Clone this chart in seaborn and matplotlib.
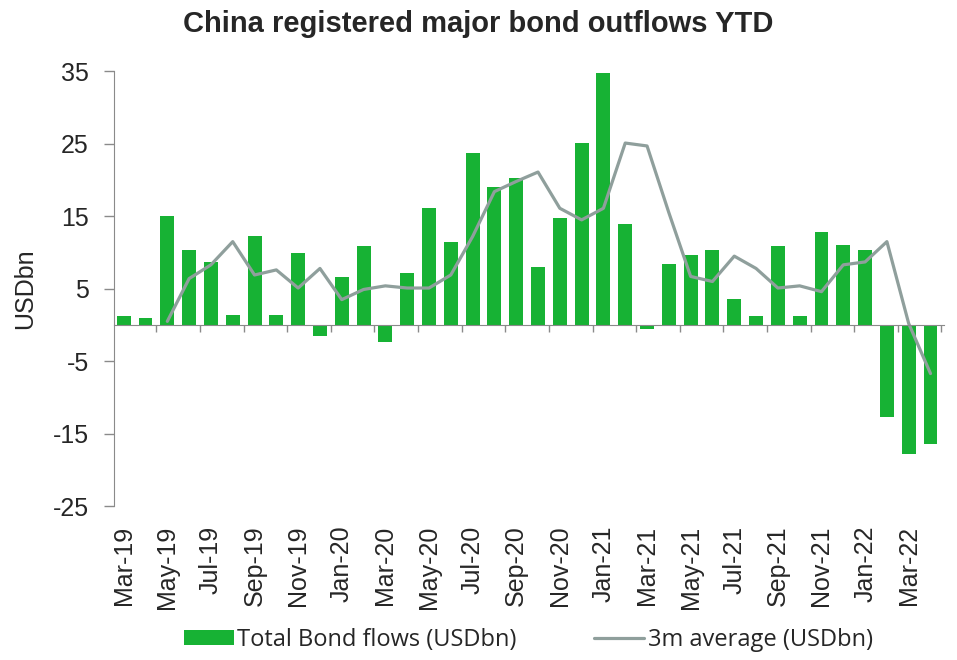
import numpy as np
import pandas as pd
import seaborn as sns
import matplotlib.pyplot as plt
from matplotlib.patches import Patch
from matplotlib.lines import Line2D

# monthly data, Mar-19 .. Apr-22
months = [
    "Mar-19", "Apr-19", "May-19", "Jun-19", "Jul-19", "Aug-19", "Sep-19", "Oct-19",
    "Nov-19", "Dec-19", "Jan-20", "Feb-20", "Mar-20", "Apr-20", "May-20", "Jun-20",
    "Jul-20", "Aug-20", "Sep-20", "Oct-20", "Nov-20", "Dec-20", "Jan-21", "Feb-21",
    "Mar-21", "Apr-21", "May-21", "Jun-21", "Jul-21", "Aug-21", "Sep-21", "Oct-21",
    "Nov-21", "Dec-21", "Jan-22", "Feb-22", "Mar-22", "Apr-22",
]
bond_flows = [
    1.2, 0.9, 15.0, 10.3, 8.7, 1.4, 12.3, 1.4, 9.9, -1.5,
    6.6, 10.9, -2.4, 7.2, 16.1, 11.5, 23.7, 19.1, 20.3, 8.0,
    14.8, 25.1, 34.8, 13.9, -0.6, 8.4, 9.7, 10.3, 3.6, 1.2,
    10.9, 1.2, 12.8, 11.0, 10.4, -12.7, -17.8, -16.4,
]
avg_3m = [
    None, None, 0.5, 6.4, 8.3, 11.5, 6.9, 7.6, 5.1, 7.8,
    3.5, 4.9, 5.4, 5.1, 5.1, 6.9, 12.2, 18.4, 19.8, 21.1,
    16.1, 14.5, 16.1, 25.1, 24.7, 15.5, 6.7, 6.0, 9.5, 7.8,
    5.1, 5.4, 4.6, 8.3, 8.7, 11.5, 0.2, -6.7,
]
y_ticks = [-25, -15, -5, 5, 15, 25, 35]

bar_color = "#17b234"
line_color = "#8f9f9c"
axis_grey = "#8a8a8a"

df = pd.DataFrame({"pos": np.arange(len(months)), "month": months,
                   "flows": bond_flows, "avg": avg_3m})
df["avg"] = df["avg"].astype(float)

sns.set_style("white")
plt.rcParams["font.family"] = ["Liberation Sans", "DejaVu Sans"]
plt.rcParams["axes.unicode_minus"] = False

fig = plt.figure(figsize=(9.57, 6.6), dpi=100)
ax = fig.add_axes([0.119, 0.233, 0.867, 0.659])

sns.barplot(data=df, x="pos", y="flows", native_scale=True, width=0.64,
            color=bar_color, saturation=1, linewidth=0, ax=ax)
sns.lineplot(data=df.dropna(subset=["avg"]), x="pos", y="avg",
             color=line_color, linewidth=2.3, ax=ax)

ax.set_xlim(-0.45, len(months) - 0.4)
ax.set_ylim(-25, 35)
ax.set_yticks(y_ticks)
ax.tick_params(axis="y", direction="out", length=7, width=1, color=axis_grey,
               labelsize=18, pad=11, left=True)

# category axis crossing at zero, tick marks between every second month
for s in ["top", "right"]:
    ax.spines[s].set_visible(False)
ax.spines["left"].set_color(axis_grey)
ax.spines["bottom"].set_position(("data", 0))
ax.spines["bottom"].set_color(axis_grey)
ax.set_xticks(np.arange(1.5, len(months), 2))
ax.set_xticklabels([])
ax.tick_params(axis="x", direction="out", length=5, width=1, color=axis_grey, bottom=True)

# month labels at the bottom of the plot area
sec = ax.secondary_xaxis("bottom")
sec.spines["bottom"].set_visible(False)
sec.set_xticks(df["pos"][::2], df["month"][::2])
sec.tick_params(axis="x", length=0, labelsize=18, pad=14, labelrotation=90)

ax.set_xlabel("")
ax.set_ylabel("USDbn", fontsize=18)
ax.yaxis.set_label_coords(-0.093, 0.5)

fig.suptitle("China registered major bond outflows YTD", fontsize=21,
             fontweight="bold", x=0.5, y=0.985)

handles = [
    Patch(facecolor=bar_color, edgecolor="none", label="Total Bond flows (USDbn)"),
    Line2D([0], [0], color=line_color, linewidth=2.3, label="3m average (USDbn)"),
]
fig.legend(handles=handles, loc="center", bbox_to_anchor=(0.552, 0.03), ncol=2,
           frameon=False, prop={"family": "Open Sans", "size": 17},
           handlelength=2.1, handleheight=0.6, handletextpad=0.15, columnspacing=3.3)

fig.savefig("out.png", dpi=100)
